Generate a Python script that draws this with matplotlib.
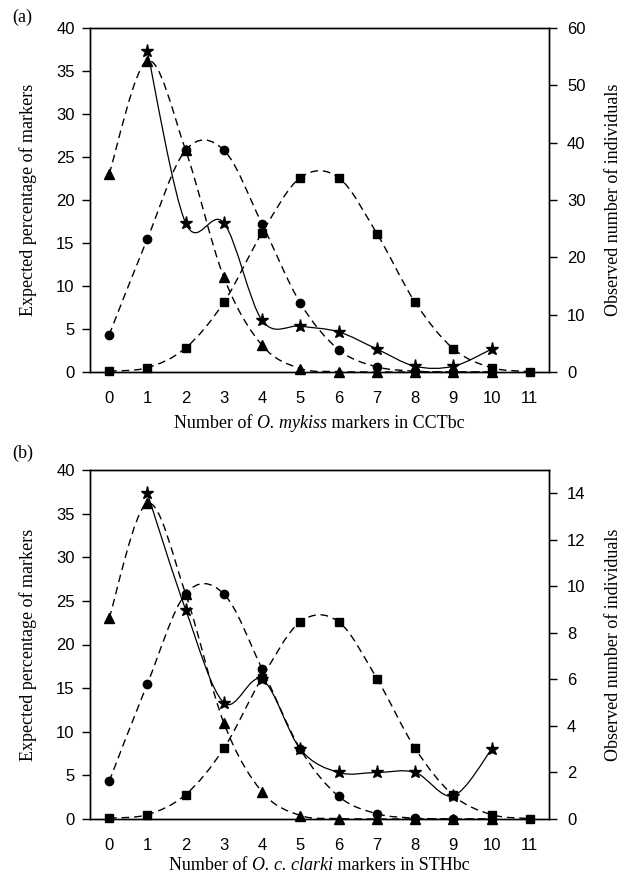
import numpy as np
import matplotlib
matplotlib.use("Agg")
import matplotlib.pyplot as plt
from matplotlib.path import Path
from matplotlib.patches import PathPatch

# x categories: number of markers
x_all = [0, 1, 2, 3, 4, 5, 6, 7, 8, 9, 10, 11]

# expected percentage of markers (left axis), same for both panels
tri_x = [0, 1, 2, 3, 4, 5, 6, 7, 8, 9, 10]
tri_y = [23.0, 36.2, 25.8, 11.0, 3.1, 0.4, 0.05, 0.0, 0.0, 0.0, 0.0]
circ_x = [0, 1, 2, 3, 4, 5, 6, 7, 8, 9, 10]
circ_y = [4.3, 15.5, 25.8, 25.8, 17.2, 8.0, 2.6, 0.6, 0.1, 0.0, 0.0]
sq_x = [0, 1, 2, 3, 4, 5, 6, 7, 8, 9, 10, 11]
sq_y = [0.1, 0.5, 2.8, 8.1, 16.2, 22.6, 22.6, 16.1, 8.1, 2.7, 0.5, 0.05]

# observed number of individuals (right axis)
star_x = [1, 2, 3, 4, 5, 6, 7, 8, 9, 10]
star_a = [56, 26, 26, 9, 8, 7, 4, 1, 1, 4]
star_b = [14, 9, 5, 6, 3, 2, 2, 2, 1, 3]

xlabels = [("Number of ", "O. mykiss", " markers in CCTbc"),
           ("Number of ", "O. c. clarki", " markers in STHbc")]

plt.rcParams["font.family"] = ["Liberation Sans", "DejaVu Sans"]

SERIF = "Liberation Serif"
LABEL_FS = 13
TICK_FS = 12
DASH = (0, (5.5, 3.5))


def smooth_path(xs, ys):
    # Excel-style smoothed line: cubic bezier through every point
    pts = np.column_stack([xs, ys]).astype(float)
    n = len(pts)
    verts = [pts[0]]
    codes = [Path.MOVETO]
    for i in range(n - 1):
        p0 = pts[max(i - 1, 0)]
        p1 = pts[i]
        p2 = pts[i + 1]
        p3 = pts[min(i + 2, n - 1)]
        c1 = p1 + (p2 - p0) / 6.0
        c2 = p2 - (p3 - p1) / 6.0
        verts += [c1, c2, p2]
        codes += [Path.CURVE4] * 3
    return Path(verts, codes)


def draw_series(ax, xs, ys, marker, ms, ls, lw):
    ax.add_patch(PathPatch(smooth_path(xs, ys), fill=False, edgecolor="black",
                           linestyle=ls, linewidth=lw, zorder=2))
    ax.plot(xs, ys, linestyle="none", marker=marker, markersize=ms,
            color="black", zorder=3, clip_on=False)


def mixed_label(fig, xc, yc, parts):
    # roman / italic / roman pieces, centred as one line
    r = fig.canvas.get_renderer()
    styles = ["normal", "italic", "normal"]
    objs = [fig.text(0, yc, p, fontsize=LABEL_FS, family=SERIF, style=s, va="center")
            for p, s in zip(parts, styles)]
    widths = [o.get_window_extent(r).width / fig.bbox.width for o in objs]
    x = xc - sum(widths) / 2
    for o, w in zip(objs, widths):
        o.set_x(x)
        x += w


fig = plt.figure(figsize=(6.26, 8.77), dpi=100)
panels = [
    ([90 / 626, (877 - 372) / 877, 459 / 626, 344 / 877], star_a, 60, [0, 10, 20, 30, 40, 50, 60], "(a)", 17, 423),
    ([90 / 626, (877 - 819) / 877, 459 / 626, 349 / 877], star_b, 15, [0, 2, 4, 6, 8, 10, 12, 14], "(b)", 453, 866),
]

for k, (rect, stars, rmax, rticks, tag, tag_y, xlab_y) in enumerate(panels):
    ax = fig.add_axes(rect)
    draw_series(ax, tri_x, tri_y, "^", 7, DASH, 1.0)
    draw_series(ax, circ_x, circ_y, "o", 6, DASH, 1.0)
    draw_series(ax, sq_x, sq_y, "s", 6, DASH, 1.0)
    ax.set_xlim(-0.5, 11.5)
    ax.set_ylim(0, 40)
    ax.set_xticks(x_all)
    ax.set_yticks([0, 5, 10, 15, 20, 25, 30, 35, 40])
    ax.tick_params(axis="x", length=0, pad=14, labelsize=TICK_FS)
    ax.tick_params(axis="y", direction="out", length=6, width=1, pad=5, labelsize=TICK_FS)
    for s in ax.spines.values():
        s.set_linewidth(1.0)
    ax.set_ylabel("Expected percentage of markers", fontsize=LABEL_FS, family=SERIF, labelpad=14)

    ax2 = ax.twinx()
    draw_series(ax2, star_x, stars, "*", 9.5, "-", 0.9)
    ax2.set_ylim(0, rmax)
    ax2.set_yticks(rticks)
    ax2.tick_params(axis="y", direction="out", length=6, width=1, pad=7, labelsize=TICK_FS)
    for s in ax2.spines.values():
        s.set_linewidth(1.0)
    ax2.set_ylabel("Observed number of individuals", fontsize=LABEL_FS, family=SERIF, labelpad=14)

    fig.text(12 / 626, 1 - tag_y / 877, tag, fontsize=LABEL_FS, family=SERIF, va="center", ha="left")
    mixed_label(fig, rect[0] + rect[2] / 2, 1 - xlab_y / 877, xlabels[k])

fig.savefig("out.png", dpi=100)
